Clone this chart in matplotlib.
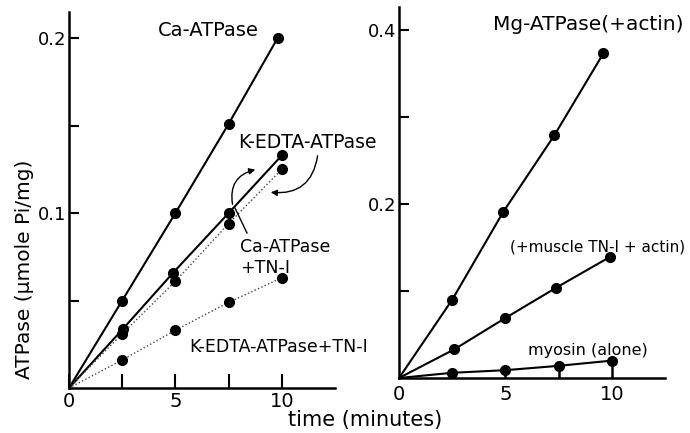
import matplotlib.pyplot as plt

# time points (minutes)
t = [2.5, 5, 7.5, 10]

# left panel: myosin ATPase
ca_t = [2.5, 5, 7.5, 9.8]
ca_atpase = [0.050, 0.100, 0.151, 0.200]
kedta_t = [2.55, 4.9, 7.5, 10]
kedta_atpase = [0.034, 0.066, 0.100, 0.133]
ca_tn_atpase = [0.031, 0.061, 0.094, 0.125]
kedta_tn_atpase = [0.016, 0.033, 0.049, 0.063]

# right panel: Mg-ATPase
mg_t = [2.5, 4.9, 7.3, 9.6]
mg_actin = [0.090, 0.191, 0.279, 0.373]
tn_t = [2.6, 5, 7.4, 9.9]
mg_tn_actin = [0.033, 0.069, 0.104, 0.139]
myosin_alone = [0.006, 0.009, 0.014, 0.020]

left_yticks = [0.05, 0.1, 0.15, 0.2]
left_ylabels = ["", "0.1", "", "0.2"]
right_yticks = [0.1, 0.2, 0.3, 0.4]
right_ylabels = ["", "0.2", "", "0.4"]
xticks = [0, 2.5, 5, 7.5, 10]
xlabels = ["0", "", "5", "", "10"]

plt.rcParams["font.family"] = "DejaVu Sans"

W, H = 690, 433


def fpos(x, y):
    # pixel position (from top-left) -> figure fraction
    return (x / W, 1 - y / H)


fig = plt.figure(figsize=(6.9, 4.33), dpi=100)
ax1 = fig.add_axes([0.1, 0.1039, 0.3855, 0.868])
ax2 = fig.add_axes([0.5783, 0.127, 0.3855, 0.8568])
for ax in (ax1, ax2):
    ax.patch.set_visible(False)


def series(ax, x, y, style="-", lw=1.5, color="black"):
    ax.plot([0] + list(x), [0] + list(y), style, color=color, lw=lw,
            marker="o", markersize=7, markevery=list(range(1, len(x) + 1)),
            markerfacecolor="black", markeredgecolor="black")


def style_axes(ax, ymax, yticks, ylabels):
    ax.set_xlim(0, 12.5)
    ax.set_ylim(0, ymax)
    for s in ["top", "right"]:
        ax.spines[s].set_visible(False)
    for s in ["left", "bottom"]:
        ax.spines[s].set_linewidth(1.8)
    ax.set_yticks(yticks)
    ax.set_yticklabels(ylabels, fontsize=13)
    ax.tick_params(axis="y", direction="in", length=7, width=1.5, pad=2)
    ax.set_xticks(xticks)
    ax.set_xticklabels(xlabels, fontsize=14)


def label(xy, s, size=13, ha="center"):
    fig.text(*fpos(*xy), s, fontsize=size, ha=ha, va="center")


# left panel
series(ax1, ca_t, ca_atpase)
series(ax1, kedta_t, kedta_atpase)
series(ax1, t, ca_tn_atpase, style=":", lw=1.0, color="#444444")
series(ax1, t, kedta_tn_atpase, style=":", lw=1.0, color="#444444")
style_axes(ax1, 0.2149, left_yticks, left_ylabels)
ax1.tick_params(axis="x", direction="in", length=10, width=1.5, pad=3)

label((208, 30), "Ca-ATPase", size=14)
label((307, 143), "K-EDTA-ATPase", size=13.5)
label((285, 247), "Ca-ATPase", size=12.5)
label((265, 268), "+TN-I", size=12.5)
label((279, 347), "K-EDTA-ATPase+TN-I", size=12.5)

# arrows and pointer line
arr = dict(arrowstyle="-|>", lw=1.0, color="black", mutation_scale=9)
fig.add_artist(plt.matplotlib.patches.FancyArrowPatch(
    fpos(318, 153), fpos(268, 192), transform=fig.transFigure,
    connectionstyle="arc3,rad=-0.5", **arr))
fig.add_artist(plt.matplotlib.patches.FancyArrowPatch(
    fpos(233, 207), fpos(258, 169), transform=fig.transFigure,
    connectionstyle="arc3,rad=-0.5", **arr))
fig.add_artist(plt.matplotlib.lines.Line2D(
    [247 / W, 235 / W], [1 - 233 / H, 1 - 208 / H], transform=fig.transFigure,
    color="black", lw=1.0))

# right panel
series(ax2, mg_t, mg_actin)
series(ax2, tn_t, mg_tn_actin)
series(ax2, t, myosin_alone)
ax2.vlines(t, 0, myosin_alone, color="black", lw=1.8)
style_axes(ax2, 0.4264, right_yticks, right_ylabels)
ax2.tick_params(axis="x", length=0, pad=5)

label((588, 25), "Mg-ATPase(+actin)", size=14.5)
label((598, 247), "(+muscle TN-I + actin)", size=11)
label((588, 350), "myosin (alone)", size=11.5)

fig.text(*fpos(365, 420), "time (minutes)", fontsize=15, ha="center",
         va="center")
fig.text(*fpos(25, 269), "ATPase (\u03bcmole Pi/mg)", fontsize=14.5,
         ha="center", va="center", rotation=90)

fig.savefig("out.png", dpi=100)
